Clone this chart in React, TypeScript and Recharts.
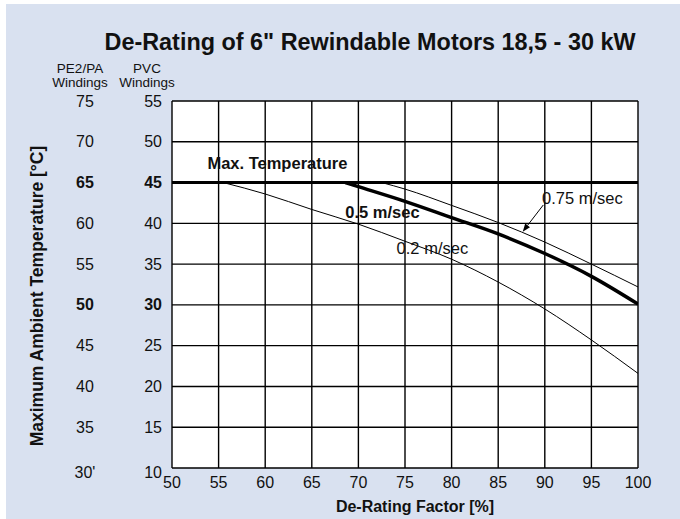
import React from "react";
import { LineChart, Line, XAxis, YAxis, CartesianGrid, ReferenceDot, ReferenceLine } from "recharts";

const FONT = "'Liberation Sans', Arial, sans-serif";

// Axis ticks
const xTicks = [50, 55, 60, 65, 70, 75, 80, 85, 90, 95, 100];
const pvcTicks = [10, 15, 20, 25, 30, 35, 40, 45, 50, 55];
const peTickLabels = ["30'", "35", "40", "45", "50", "55", "60", "65", "70", "75"];
const boldPvc = [30, 45];

// Series
const maxTempX = [50, 100];
const maxTempY = [45, 45];

const v02X = [55.5, 60, 65, 70, 75, 80, 85, 90, 95, 100];
const v02Y = [45, 43.6, 41.7, 39.9, 37.8, 35.6, 32.8, 29.5, 25.7, 21.6];

const v05X = [68.6, 70, 75, 80, 85, 90, 95, 100];
const v05Y = [45, 44.5, 42.7, 40.7, 38.7, 36.3, 33.5, 30.1];

const v075X = [72.5, 75, 80, 85, 90, 95, 100];
const v075Y = [45, 44.2, 42.2, 40.1, 37.7, 35.0, 32.2];

// Annotations (data space)
const labelTexts = ["Max. Temperature", "0.5 m/sec", "0.2 m/sec", "0.75 m/sec"];
const labelX = [53.8, 68.6, 74.1, 89.7];
const labelY = [47.4, 41.45, 37.0, 43.15];
const labelBold = [true, true, false, false];

const arrowFrom = { x: 89.84, y: 42.25 };
const arrowTo = { x: 87.63, y: 38.98 };

const zip = (xs: number[], ys: number[]) => xs.map((x, i) => ({ x, y: ys[i] }));

const YTick = (props: any) => {
  const { y, payload } = props;
  const v = payload.value;
  const i = pvcTicks.indexOf(v);
  const bold = boldPvc.includes(v);
  const dy = v === 10 ? 4 : 0;
  const style = { fontFamily: FONT, fontSize: 16, fontWeight: bold ? 700 : 400, fill: "#111" } as any;
  return (
    <g>
      <text x={85} y={y + dy} textAnchor="middle" dominantBaseline="central" style={style}>
        {peTickLabels[i]}
      </text>
      <text x={162} y={y + dy} textAnchor="end" dominantBaseline="central" style={style}>
        {v}
      </text>
    </g>
  );
};

const XTick = (props: any) => {
  const { x, payload } = props;
  return (
    <text x={x} y={482} textAnchor="middle" dominantBaseline="central" style={{ fontFamily: FONT, fontSize: 16, fill: "#111" }}>
      {payload.value}
    </text>
  );
};

const makeLabel = (i: number) => (p: any) => (
  <text
    x={p.cx}
    y={p.cy}
    textAnchor="start"
    dominantBaseline="central"
    style={{ fontFamily: FONT, fontSize: 16.5, fontWeight: labelBold[i] ? 700 : 400, fill: "#111" }}
  >
    {labelTexts[i]}
  </text>
);

const ArrowShape = (p: any) => {
  const { x1, y1, x2, y2 } = p;
  const dx = x2 - x1;
  const dy = y2 - y1;
  const len = Math.sqrt(dx * dx + dy * dy) || 1;
  const ux = dx / len;
  const uy = dy / len;
  const hl = 8;
  const hw = 3;
  const bx = x2 - ux * hl;
  const by = y2 - uy * hl;
  const pts = `${x2},${y2} ${bx - uy * hw},${by + ux * hw} ${bx + uy * hw},${by - ux * hw}`;
  return (
    <g>
      <line x1={x1} y1={y1} x2={bx} y2={by} stroke="#000" strokeWidth={1} />
      <polygon points={pts} fill="#000" />
    </g>
  );
};

export default function App() {
  return (
    <div style={{ position: "absolute", left: 0, top: 0, width: 680, height: 519, background: "#fff", overflow: "hidden" }}>
      <div style={{ position: "absolute", left: 6, top: 4, width: 674, height: 515, background: "#d9e1f0" }} />
      <div
        style={{
          position: "absolute",
          left: 370,
          top: 42,
          transform: "translate(-50%,-50%)",
          whiteSpace: "nowrap",
          fontFamily: FONT,
          fontWeight: 700,
          fontSize: 23.4,
          color: "#111",
        }}
      >
        De-Rating of 6" Rewindable Motors 18,5 - 30 kW
      </div>
      {[
        { x: 80, y: 68, t: "PE2/PA" },
        { x: 80, y: 82, t: "Windings" },
        { x: 147, y: 68, t: "PVC" },
        { x: 147, y: 82, t: "Windings" },
      ].map((h, i) => (
        <div
          key={i}
          style={{
            position: "absolute",
            left: h.x,
            top: h.y,
            transform: "translate(-50%,-50%)",
            whiteSpace: "nowrap",
            fontFamily: FONT,
            fontSize: 13.5,
            color: "#111",
          }}
        >
          {h.t}
        </div>
      ))}
      <div
        style={{
          position: "absolute",
          left: 37,
          top: 296,
          transform: "translate(-50%,-50%) rotate(-90deg)",
          whiteSpace: "nowrap",
          fontFamily: FONT,
          fontWeight: 700,
          fontSize: 17.5,
          color: "#111",
        }}
      >
        Maximum Ambient Temperature [°C]
      </div>
      <div
        style={{
          position: "absolute",
          left: 415,
          top: 507,
          transform: "translate(-50%,-50%)",
          whiteSpace: "nowrap",
          fontFamily: FONT,
          fontWeight: 700,
          fontSize: 16,
          color: "#111",
        }}
      >
        De-Rating Factor [%]
      </div>
      <div style={{ position: "absolute", left: 0, top: 0 }}>
        <LineChart width={680} height={519} margin={{ top: 101, right: 42, bottom: 21, left: 72 }}>
          <CartesianGrid stroke="#000" strokeWidth={1.4} fill="#fff" fillOpacity={1} />
          <XAxis
            dataKey="x"
            type="number"
            domain={[50, 100]}
            ticks={xTicks}
            allowDataOverflow
            axisLine={false}
            tickLine={false}
            tick={<XTick />}
            height={30}
          />
          <YAxis
            dataKey="y"
            type="number"
            domain={[10, 55]}
            ticks={pvcTicks}
            allowDataOverflow
            axisLine={false}
            tickLine={false}
            tick={<YTick />}
            width={100}
          />
          <Line data={zip(maxTempX, maxTempY)} dataKey="y" type="linear" stroke="#000" strokeWidth={3} dot={false} isAnimationActive={false} />
          <Line data={zip(v02X, v02Y)} dataKey="y" type="monotone" stroke="#000" strokeWidth={1} dot={false} isAnimationActive={false} />
          <Line data={zip(v075X, v075Y)} dataKey="y" type="monotone" stroke="#000" strokeWidth={1} dot={false} isAnimationActive={false} />
          <Line data={zip(v05X, v05Y)} dataKey="y" type="monotone" stroke="#000" strokeWidth={3.5} dot={false} isAnimationActive={false} />
          <ReferenceLine segment={[arrowFrom, arrowTo]} shape={ArrowShape} ifOverflow="visible" />
          {labelTexts.map((t, i) => (
            <ReferenceDot key={t} x={labelX[i]} y={labelY[i]} r={0} shape={makeLabel(i)} ifOverflow="visible" />
          ))}
        </LineChart>
      </div>
    </div>
  );
}
